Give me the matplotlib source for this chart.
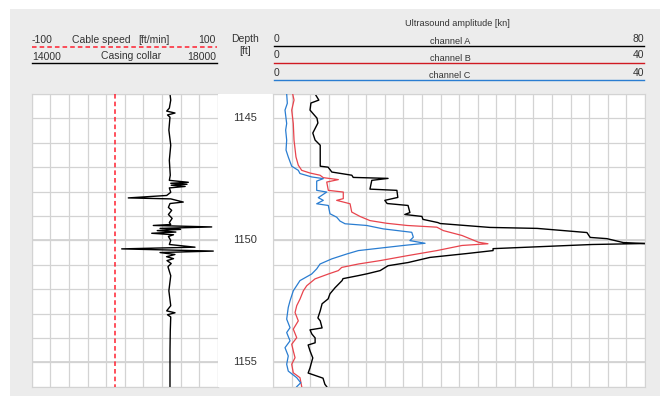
import numpy as np
import matplotlib.pyplot as plt
from matplotlib.lines import Line2D
from matplotlib.patches import Rectangle
from matplotlib.transforms import blended_transform_factory

plt.rcParams['font.family'] = ['Liberation Sans', 'DejaVu Sans']

W, H = 660, 400

# depth window [ft]
depth_top, depth_bottom = 1144, 1156
depth_labels = [1145, 1150, 1155]

# cable speed [ft/min], scale -100..100
cable_depth = [1144, 1156]
cable_speed = [-10, -10]

# casing collar, scale 14000..18000
collar_depth = [1144.0, 1144.25, 1144.58, 1144.70, 1144.78, 1144.86, 1144.95, 1145.48, 1146.1,
                1146.72, 1147.33, 1147.54, 1147.62, 1147.66, 1147.70, 1147.74, 1147.79, 1147.85,
                1148.03, 1148.16, 1148.26, 1148.30, 1148.43, 1148.49, 1148.65, 1148.77, 1148.94,
                1149.10, 1149.27, 1149.35, 1149.39, 1149.45, 1149.51, 1149.55, 1149.60, 1149.66,
                1149.71, 1149.77, 1149.84, 1150.0, 1150.17, 1150.28, 1150.35, 1150.44, 1150.50,
                1150.58, 1150.67, 1150.75, 1150.83, 1150.95, 1151.08, 1151.45, 1152.07, 1152.68,
                1152.89, 1152.97, 1153.05, 1153.14, 1153.71, 1154.53, 1156.0]
collar = [16974, 16990, 16960, 16903, 17082, 16920, 16974, 16950, 16990,
          16960, 16980, 16960, 17368, 16990, 17340, 17000, 17300, 16960,
          16990, 16903, 16077, 16990, 17260, 16974, 16940, 17010, 16940,
          17020, 16960, 16990, 16615, 17871, 16760, 17200, 16700, 17100,
          16581, 17050, 16940, 16990, 16960, 17512, 15935, 17905, 16760,
          17080, 16900, 17050, 16910, 17000, 16930, 16990, 16950, 16990,
          16903, 17082, 16920, 16990, 16980, 16974, 16974]

# ultrasound amplitude [kn]
chA_depth = [1144.0, 1144.25, 1144.37, 1144.66, 1144.99, 1145.19, 1145.6, 1145.89, 1146.1,
             1146.96, 1147.0, 1147.2, 1147.33, 1147.42, 1147.46, 1147.54, 1147.9, 1147.95,
             1148.24, 1148.36, 1148.49, 1148.57, 1148.86, 1148.94, 1149.02, 1149.14, 1149.27,
             1149.31, 1149.47, 1149.51, 1149.68, 1149.88, 1149.93, 1150.09, 1150.13, 1150.17,
             1150.34, 1150.42, 1150.54, 1150.7, 1150.91, 1151.04, 1151.24, 1151.37, 1151.45,
             1151.57, 1151.65, 1151.94, 1152.19, 1152.4, 1152.6, 1152.89, 1153.18, 1153.3,
             1153.59, 1153.67, 1153.84, 1154.0, 1154.2, 1154.29, 1154.53, 1154.82, 1154.95,
             1155.23, 1155.44, 1155.65, 1155.9, 1156.0]
chA = [9.0, 9.8, 8.1, 7.9, 9.4, 9.6, 8.5, 9.0, 10.1,
       10.1, 11.8, 12.6, 16.9, 17.2, 24.7, 21.2, 20.8, 26.6,
       26.8, 24.0, 24.5, 29.0, 29.4, 28.3, 32.0, 32.2, 35.4,
       35.9, 46.6, 56.8, 67.5, 68.2, 71.8, 75.3, 80.0, 68.6,
       47.3, 47.3, 41.7, 33.7, 29.0, 24.7, 23.0, 20.2, 18.2,
       15.0, 14.8, 13.3, 12.2, 11.8, 10.5, 10.1, 9.6, 10.1,
       10.5, 7.9, 8.3, 9.0, 9.0, 7.5, 7.9, 8.5, 8.3,
       7.9, 7.5, 10.7, 11.1, 11.5]

chB_depth = [1144.0, 1144.25, 1144.66, 1145.21, 1145.89, 1146.58, 1146.92, 1147.13, 1147.24,
             1147.33, 1147.43, 1147.51, 1147.61, 1147.95, 1148.02, 1148.29, 1148.36, 1148.5,
             1148.84, 1149.02, 1149.19, 1149.3, 1149.39, 1149.46, 1149.6, 1149.8, 1149.94,
             1150.08, 1150.14, 1150.21, 1150.42, 1150.63, 1150.83, 1150.97, 1151.11, 1151.24,
             1151.38, 1151.58, 1151.86, 1152.07, 1152.41, 1152.68, 1152.96, 1153.3, 1153.64,
             1153.99, 1154.26, 1154.53, 1154.81, 1155.08, 1155.43, 1155.63, 1156.0]
chB = [2.09, 2.23, 1.98, 2.15, 2.23, 2.44, 2.69, 3.06, 3.95,
       5.03, 5.38, 7.0, 5.75, 5.92, 7.53, 7.53, 6.82, 8.26,
       8.44, 9.33, 10.4, 12.2, 14.4, 17.6, 18.3, 20.3, 21.2,
       22.1, 23.1, 20.3, 17.6, 14.4, 11.5, 9.15, 7.36, 7.0,
       5.92, 4.49, 3.6, 3.23, 2.87, 2.52, 2.34, 2.69, 2.15,
       2.52, 1.98, 2.15, 2.34, 1.98, 2.15, 2.87, 3.06]

chC_depth = [1144.0, 1144.38, 1144.66, 1145.21, 1145.48, 1145.89, 1146.3, 1146.58, 1146.96,
             1147.13, 1147.26, 1147.4, 1147.47, 1147.57, 1147.95, 1148.02, 1148.25, 1148.36,
             1148.5, 1148.57, 1148.91, 1149.05, 1149.21, 1149.32, 1149.39, 1149.53, 1149.67,
             1149.87, 1150.01, 1150.12, 1150.21, 1150.35, 1150.42, 1150.56, 1150.76, 1150.97,
             1151.17, 1151.38, 1151.65, 1152.07, 1152.48, 1152.75, 1153.23, 1153.58, 1153.78,
             1154.12, 1154.4, 1154.74, 1155.08, 1155.36, 1155.63, 1155.84, 1156.0]
chC = [1.44, 1.51, 1.26, 1.44, 1.33, 1.44, 1.37, 1.61, 1.98,
       2.69, 2.87, 4.13, 5.38, 4.67, 4.67, 5.75, 4.84, 5.38,
       4.67, 5.92, 6.1, 6.82, 7.18, 7.72, 10.05, 11.84, 14.9,
       15.07, 14.7, 16.33, 14.0, 10.76, 9.15, 7.9, 6.29, 5.03,
       4.67, 4.13, 2.87, 2.15, 1.8, 1.61, 1.44, 1.8, 1.44,
       1.8, 1.26, 1.61, 1.44, 1.61, 2.52, 2.95, 2.52]

BG = '#ececec'
GRID = '#d3d3d3'
TXT = '#333333'
RED = '#e8444d'
RED_DASH = '#ff2030'
RED_HDR = '#d01a22'
BLUE = '#2a7dd1'


def fx(px):
    return px / W


def fy(py):
    return 1 - py / H


def add_px_axes(x0, y0, x1, y1):
    return fig.add_axes([fx(x0), fy(y1), (x1 - x0) / W, (y1 - y0) / H])


def hline(x0, x1, y, color, ls='-', lw=1.0):
    fig.add_artist(Line2D([fx(x0), fx(x1)], [fy(y), fy(y)], transform=fig.transFigure,
                          color=color, ls=ls, lw=lw))


def label(x, y, s, ha='left', size=7.5):
    fig.text(fx(x), fy(y), s, ha=ha, va='center', fontsize=size, color=TXT)


def style_track(ax, xmin, xmax, nx):
    ax.set_xlim(xmin, xmax)
    ax.set_ylim(depth_bottom, depth_top)
    ax.set_xticks(np.linspace(xmin, xmax, nx + 1))
    ax.set_yticks(range(depth_top, depth_bottom + 1))
    ax.grid(True, color=GRID, lw=0.9)
    for d in depth_labels[1:]:
        ax.axhline(d, color=GRID, lw=1.3, zorder=0.5)
    ax.tick_params(length=0, labelbottom=False, labelleft=False)
    for s in ax.spines.values():
        s.set_color(GRID)
    ax.set_axisbelow(True)


fig = plt.figure(figsize=(W / 100, H / 100), dpi=100)
fig.patch.set_facecolor('white')
fig.add_artist(Rectangle((fx(10), fy(396)), 1 - fx(10), (396 - 9) / H,
                         transform=fig.transFigure, facecolor=BG, edgecolor='none', zorder=-5))

# left track: casing collar + cable speed
ax_l = add_px_axes(31.7, 94, 217.7, 386.7)
style_track(ax_l, 14000, 18000, 10)
ax_l.plot(collar, collar_depth, color='black', lw=1.0)
ax_cs = ax_l.twiny()
ax_cs.set_xlim(-100, 100)
ax_cs.axis('off')
ax_cs.plot(cable_speed, cable_depth, color=RED_DASH, lw=1.1, ls=(0, (3, 2)))

# depth column
ax_d = add_px_axes(217.7, 94, 273.3, 386.7)
ax_d.set_ylim(depth_bottom, depth_top)
ax_d.axis('off')
ax_d.add_patch(Rectangle((0, 0), 1, 1, transform=ax_d.transAxes, facecolor='white',
                         edgecolor='none'))
tr = blended_transform_factory(ax_d.transAxes, ax_d.transData)
for d in depth_labels:
    ax_d.text(0.5, d, str(d), transform=tr, ha='center', va='center', fontsize=8, color=TXT)

# right track: ultrasound amplitude
ax_r = add_px_axes(273.3, 94, 645, 386.7)
style_track(ax_r, 0, 80, 20)
ax_r.plot(chA, chA_depth, color='black', lw=1.0)
ax_bc = ax_r.twiny()
ax_bc.set_xlim(0, 40)
ax_bc.axis('off')
ax_bc.plot(chB, chB_depth, color=RED, lw=0.9)
ax_bc.plot(chC, chC_depth, color=BLUE, lw=0.9)

# header, left
label(32, 40, '-100')
label(72, 40, 'Cable speed')
label(138, 40, '[ft/min]')
label(216, 40, '100', ha='right')
hline(32, 217, 46.5, RED_DASH, ls=(0, (3, 2)), lw=1.1)
label(32, 57, '14000')
label(131, 56, 'Casing collar', ha='center')
label(216, 57, '18000', ha='right')
hline(32, 217, 63, 'black')

label(245, 39, 'Depth', ha='center')
label(245, 51, '[ft]', ha='center')

# header, right
label(457, 24, 'Ultrasound amplitude [kn]', ha='center', size=6.6)
channels = [('channel A', '80', 'black', 46), ('channel B', '40', RED_HDR, 63),
            ('channel C', '40', BLUE, 80)]
for name, top, col, yl in channels:
    label(274, yl - 7.5, '0')
    label(450, yl - 4.5, name, ha='center', size=6.6)
    label(644, yl - 7.5, top, ha='right')
    hline(274, 644, yl, col)

fig.savefig('out.png', dpi=100)
